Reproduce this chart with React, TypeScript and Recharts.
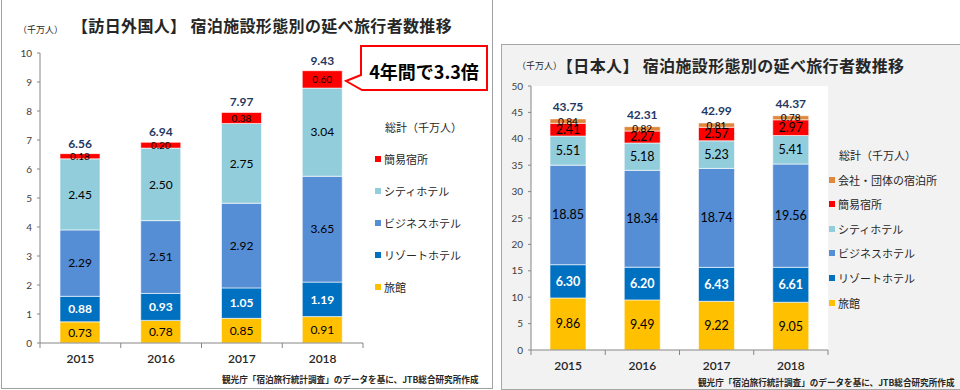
import { BarChart, Bar, XAxis, YAxis, LabelList, CartesianGrid } from 'recharts';

const years = ['2015', '2016', '2017', '2018'];

// 訪日外国人（千万人）
const inbRyokan = [0.73, 0.78, 0.85, 0.91];
const inbResort = [0.88, 0.93, 1.05, 1.19];
const inbBusiness = [2.29, 2.51, 2.92, 3.65];
const inbCity = [2.45, 2.5, 2.75, 3.04];
const inbSimple = [0.18, 0.2, 0.38, 0.6];
const inbTotal = [6.56, 6.94, 7.97, 9.43];
const inbTicks = [0, 1, 2, 3, 4, 5, 6, 7, 8, 9, 10];

// 日本人（千万人）
const jpRyokan = [9.86, 9.49, 9.22, 9.05];
const jpResort = [6.3, 6.2, 6.43, 6.61];
const jpBusiness = [18.85, 18.34, 18.74, 19.56];
const jpCity = [5.51, 5.18, 5.23, 5.41];
const jpSimple = [2.41, 2.27, 2.57, 2.97];
const jpCompany = [0.84, 0.82, 0.81, 0.78];
const jpTotal = [43.75, 42.31, 42.99, 44.37];
const jpTicks = [0, 5, 10, 15, 20, 25, 30, 35, 40, 45, 50];

const C_RYOKAN = '#FFC000';
const C_RESORT = '#0070C0';
const C_BUSINESS = '#558ED5';
const C_CITY = '#92CDDC';
const C_SIMPLE = '#FF0000';
const C_COMPANY = '#E0883E';
const C_TOTAL = '#1F3864';
const AXIS = '#868686';

const JP_FONT = '"Noto Sans CJK JP", sans-serif';
const NUM_FONT = 'Lato, "Noto Sans CJK JP", sans-serif';

const inbData = years.map((year, i) => ({
  year,
  ryokan: inbRyokan[i],
  resort: inbResort[i],
  business: inbBusiness[i],
  city: inbCity[i],
  simple: inbSimple[i],
  total: inbTotal[i],
}));

const jpData = years.map((year, i) => ({
  year,
  ryokan: jpRyokan[i],
  resort: jpResort[i],
  business: jpBusiness[i],
  city: jpCity[i],
  simple: jpSimple[i],
  company: jpCompany[i],
  total: jpTotal[i],
}));

const fmt = (v: any) => Number(v).toFixed(2);

// x axis: year label + tick marks on category borders (like Excel)
const makeYearTick = (band: number, count: number) => (props: any) => {
  const { x, y, payload, index } = props;
  return (
    <g>
      <line x1={x - band / 2} x2={x - band / 2} y1={y - 8} y2={y - 3} stroke={AXIS} />
      {index === count - 1 && (
        <line x1={x + band / 2} x2={x + band / 2} y1={y - 8} y2={y - 3} stroke={AXIS} />
      )}
      <text x={x} y={y + 12} textAnchor="middle" fontSize={12} fill="#262626" fontFamily={NUM_FONT} fontWeight={600}>
        {payload.value}
      </text>
    </g>
  );
};

function LegendBox({ title, items, left, top, gap }: { title: string; items: [string, string][]; left: number; top: number; gap: number }) {
  return (
    <div style={{ position: 'absolute', left, top, fontFamily: JP_FONT, fontSize: 11, color: '#262626' }}>
      <div style={{ position: 'absolute', left: 10, top: -8, whiteSpace: 'nowrap', lineHeight: '16px' }}>{title}</div>
      {items.map(([label, color], i) => (
        <div key={label} style={{ position: 'absolute', left: 0, top: (i + 1) * gap - 8, whiteSpace: 'nowrap', display: 'flex', alignItems: 'center', lineHeight: '16px' }}>
          <span style={{ width: 6, height: 6, background: color, marginRight: 3, display: 'inline-block' }} />
          {label}
        </div>
      ))}
    </div>
  );
}

export default function App() {
  const inbBand = 323 / 4;
  const jpBand = 297 / 4;
  return (
    <div style={{ position: 'absolute', left: 0, top: 0, width: 960, height: 390, background: '#fff', overflow: 'hidden', fontFamily: JP_FONT }}>
      {/* 左：訪日外国人 */}
      <div style={{ position: 'absolute', left: 1, top: -2, width: 492, height: 391, border: '1px solid #A0A0A0', boxSizing: 'border-box' }} />
      <div style={{ position: 'absolute', left: 18, top: 23, fontSize: 9, color: '#262626', whiteSpace: 'nowrap' }}>（千万人）</div>
      <div style={{ position: 'absolute', left: 72, top: 13, fontSize: 16, letterSpacing: 0.35, fontWeight: 700, color: '#262626', whiteSpace: 'nowrap', lineHeight: '24px' }}>
        【訪日外国人】 宿泊施設形態別の延べ旅行者数推移
      </div>
      <div style={{ position: 'absolute', left: 0, top: 0 }}>
        <BarChart width={492} height={390} data={inbData} margin={{ top: 53, right: 129, bottom: 17, left: 10 }} barSize={40}>
          <XAxis dataKey="year" tickLine={false} axisLine={{ stroke: AXIS }} height={30} tick={makeYearTick(inbBand, years.length)} interval={0} />
          <YAxis width={30} domain={[0, 10]} ticks={inbTicks} interval={0} tickSize={3} tickMargin={5} tickLine={{ stroke: AXIS }} axisLine={{ stroke: AXIS }} tick={{ fontSize: 10, fill: '#404040', fontFamily: NUM_FONT }} />
          <Bar dataKey="ryokan" stackId="a" fill={C_RYOKAN} stroke="#fff" strokeWidth={0.6} isAnimationActive={false}>
            <LabelList dataKey="ryokan" position="center" formatter={fmt} fill="#000" fontSize={12} fontFamily={NUM_FONT} />
          </Bar>
          <Bar dataKey="resort" stackId="a" fill={C_RESORT} stroke="#fff" strokeWidth={0.6} isAnimationActive={false}>
            <LabelList dataKey="resort" position="center" formatter={fmt} fill="#fff" fontSize={12} fontWeight={700} fontFamily={NUM_FONT} />
          </Bar>
          <Bar dataKey="business" stackId="a" fill={C_BUSINESS} stroke="#fff" strokeWidth={0.6} isAnimationActive={false}>
            <LabelList dataKey="business" position="center" formatter={fmt} fill="#000" fontSize={12} fontFamily={NUM_FONT} />
          </Bar>
          <Bar dataKey="city" stackId="a" fill={C_CITY} stroke="#fff" strokeWidth={0.6} isAnimationActive={false}>
            <LabelList dataKey="city" position="center" formatter={fmt} fill="#000" fontSize={12} fontFamily={NUM_FONT} />
          </Bar>
          <Bar dataKey="simple" stackId="a" fill={C_SIMPLE} stroke="#fff" strokeWidth={0.6} isAnimationActive={false}>
            <LabelList dataKey="simple" position="center" formatter={fmt} fill="#000" fontSize={10} fontFamily={NUM_FONT} />
            <LabelList dataKey="total" position="top" offset={6} formatter={fmt} fill={C_TOTAL} fontSize={12} fontWeight={700} fontFamily={NUM_FONT} />
          </Bar>
        </BarChart>
      </div>
      <LegendBox
        title="総計（千万人）"
        left={375}
        top={127}
        gap={32}
        items={[
          ['簡易宿所', C_SIMPLE],
          ['シティホテル', C_CITY],
          ['ビジネスホテル', C_BUSINESS],
          ['リゾートホテル', C_RESORT],
          ['旅館', C_RYOKAN],
        ]}
      />
      {/* 吹き出し */}
      <svg style={{ position: 'absolute', left: 0, top: 0 }} width={492} height={120}>
        <path d="M361,46 H487 V90 H362 L346,81 L361,75 Z" fill="#fff" stroke="#FF0000" strokeWidth={2} />
      </svg>
      <div style={{ position: 'absolute', left: 361, top: 58, width: 126, textAlign: 'center', fontSize: 18, fontWeight: 700, color: '#000', lineHeight: '26px', whiteSpace: 'nowrap' }}>
        4年間で3.3倍
      </div>
      <div style={{ position: 'absolute', left: 222, top: 372, fontSize: 8.6, fontWeight: 700, color: '#262626', whiteSpace: 'nowrap', lineHeight: '14px' }}>
        観光庁「宿泊旅行統計調査」のデータを基に、JTB総合研究所作成
      </div>

      {/* 右：日本人 */}
      <div style={{ position: 'absolute', left: 501, top: 44, width: 462, height: 346, background: '#F2F2F2', border: '1px solid #A6A6A6', boxSizing: 'border-box' }} />
      <div style={{ position: 'absolute', left: 517, top: 59, fontSize: 9, color: '#262626', whiteSpace: 'nowrap' }}>（千万人）</div>
      <div style={{ position: 'absolute', left: 557, top: 53, fontSize: 16, letterSpacing: 0.35, fontWeight: 700, color: '#262626', whiteSpace: 'nowrap', lineHeight: '24px' }}>
        【日本人】 宿泊施設形態別の延べ旅行者数推移
      </div>
      <div style={{ position: 'absolute', left: 502, top: 45 }}>
        <BarChart width={457} height={343} data={jpData} margin={{ top: 41, right: 131, bottom: 8, left: 9 }} barSize={36}>
          <CartesianGrid horizontal={false} vertical={false} fill="#fff" />
          <XAxis dataKey="year" tickLine={false} axisLine={{ stroke: AXIS }} height={30} tick={makeYearTick(jpBand, years.length)} interval={0} />
          <YAxis width={20} domain={[0, 50]} ticks={jpTicks} interval={0} tickSize={3} tickMargin={5} tickLine={{ stroke: AXIS }} axisLine={{ stroke: AXIS }} tick={{ fontSize: 10, fill: '#404040', fontFamily: NUM_FONT }} />
          <Bar dataKey="ryokan" stackId="b" fill={C_RYOKAN} stroke="#fff" strokeWidth={0.6} isAnimationActive={false}>
            <LabelList dataKey="ryokan" position="center" formatter={fmt} fill="#000" fontSize={12.5} fontFamily={NUM_FONT} />
          </Bar>
          <Bar dataKey="resort" stackId="b" fill={C_RESORT} stroke="#fff" strokeWidth={0.6} isAnimationActive={false}>
            <LabelList dataKey="resort" position="center" formatter={fmt} fill="#fff" fontSize={12.5} fontWeight={700} fontFamily={NUM_FONT} />
          </Bar>
          <Bar dataKey="business" stackId="b" fill={C_BUSINESS} stroke="#fff" strokeWidth={0.6} isAnimationActive={false}>
            <LabelList dataKey="business" position="center" formatter={fmt} fill="#000" fontSize={12.5} fontFamily={NUM_FONT} />
          </Bar>
          <Bar dataKey="city" stackId="b" fill={C_CITY} stroke="#fff" strokeWidth={0.6} isAnimationActive={false}>
            <LabelList dataKey="city" position="center" formatter={fmt} fill="#000" fontSize={12.5} fontFamily={NUM_FONT} />
          </Bar>
          <Bar dataKey="simple" stackId="b" fill={C_SIMPLE} stroke="#fff" strokeWidth={0.6} isAnimationActive={false}>
            <LabelList dataKey="simple" position="center" formatter={fmt} fill="#000" fontSize={12.5} fontFamily={NUM_FONT} />
          </Bar>
          <Bar dataKey="company" stackId="b" fill={C_COMPANY} stroke="#fff" strokeWidth={0.6} isAnimationActive={false}>
            <LabelList dataKey="company" position="center" formatter={fmt} fill="#000" fontSize={10} fontFamily={NUM_FONT} />
            <LabelList dataKey="total" position="top" offset={8} formatter={fmt} fill={C_TOTAL} fontSize={12} fontWeight={700} fontFamily={NUM_FONT} />
          </Bar>
        </BarChart>
      </div>
      <LegendBox
        title="総計（千万人）"
        left={829}
        top={155}
        gap={24.6}
        items={[
          ['会社・団体の宿泊所', C_COMPANY],
          ['簡易宿所', C_SIMPLE],
          ['シティホテル', C_CITY],
          ['ビジネスホテル', C_BUSINESS],
          ['リゾートホテル', C_RESORT],
          ['旅館', C_RYOKAN],
        ]}
      />
      <div style={{ position: 'absolute', left: 698, top: 375, fontSize: 8.6, fontWeight: 700, color: '#262626', whiteSpace: 'nowrap', lineHeight: '14px' }}>
        観光庁「宿泊旅行統計調査」のデータを基に、JTB総合研究所作成
      </div>
    </div>
  );
}
